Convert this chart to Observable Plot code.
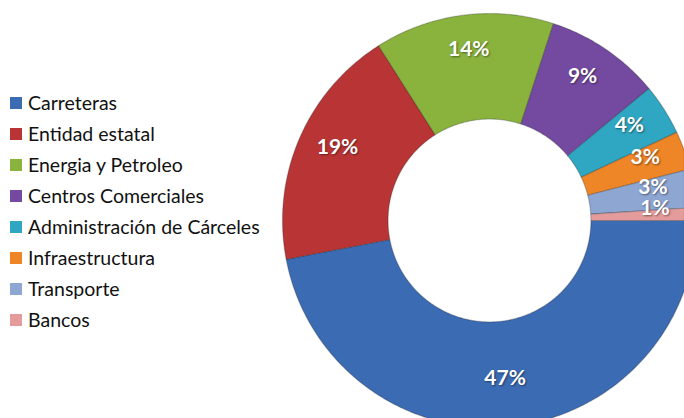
<!DOCTYPE html>
<html>
<head>
<meta charset="utf-8">
<script src="https://cdn.jsdelivr.net/npm/d3@7"></script>
<script src="https://cdn.jsdelivr.net/npm/@observablehq/plot@0.6"></script>
<style>
  html, body { margin: 0; padding: 0; background: #fff; }
  #wrap { position: relative; width: 684px; height: 418px; overflow: hidden; }
  #chart { position: absolute; left: 0; top: 0; }
  #legend { position: absolute; left: 10px; top: 87px; }
  #legend .lg-swatches { font-family: Lato, "Open Sans", sans-serif !important; font-size: 19.5px !important; color: #111 !important; margin: 0 !important; }
  #legend .lg-swatch { height: 31px; padding: 0 !important; margin: 0 !important; display: flex; align-items: center; }
  #legend .lg-swatch svg { margin-right: 6px !important; }
</style>
</head>
<body>
<div id="wrap">
  <div id="chart"></div>
  <div id="legend"></div>
</div>
<script>
const categories = ["Carreteras", "Entidad estatal", "Energia y Petroleo", "Centros Comerciales",
  "Administración de Cárceles", "Infraestructura", "Transporte", "Bancos"];
const values = [47, 19, 14, 9, 4, 3, 3, 1];
const colors = ["#3b6bb2", "#b93535", "#8ab33e", "#7449a0", "#2fa6c2", "#ee8527", "#8ea6d2", "#e39b9b"];
const labels = values.map(v => v + "%");

// geometry (unit ring, outer radius 1)
const innerR = 0.49, outerR = 1, labelR = 0.8;
const startAngle = Math.PI / 2; // first slice starts at 3 o'clock, clockwise
const total = d3.sum(values);
const pt = (r, a) => [r * Math.sin(a), -r * Math.cos(a)];

let acc = startAngle;
const slices = values.map((v, i) => {
  const a0 = acc, a1 = acc + (v / total) * 2 * Math.PI;
  acc = a1;
  const n = Math.max(4, Math.ceil((a1 - a0) / 0.01));
  const ring = [];
  for (let k = 0; k <= n; ++k) ring.push(pt(outerR, a0 + (a1 - a0) * k / n));
  for (let k = n; k >= 0; --k) ring.push(pt(innerR, a0 + (a1 - a0) * k / n));
  ring.push(ring[0]);
  const am = (a0 + a1) / 2;
  const [lx, ly] = pt(labelR, am);
  return {
    type: "Feature",
    properties: {category: categories[i], label: labels[i], color: colors[i], lx, ly},
    geometry: {type: "Polygon", coordinates: [ring]}
  };
});

// frame in ring units: centre sits at (489,220) of the 684x418 picture with outer radius 207
const R = 207;
const frame = {type: "Polygon", coordinates: [[
  [-489 / R, -220 / R], [(684 - 489) / R, -220 / R], [(684 - 489) / R, (418 - 220) / R],
  [-489 / R, (418 - 220) / R], [-489 / R, -220 / R]
]]};

const chart = Plot.plot({
  width: 684,
  height: 418,
  margin: 0,
  projection: {type: "identity", domain: frame},
  marks: [
    Plot.geo(slices, {
      fill: d => d.properties.color,
      stroke: "#1a1a1a",
      strokeOpacity: 0.25,
      strokeWidth: 1.2
    }),
    Plot.text(slices, {
      x: d => d.properties.lx,
      y: d => d.properties.ly,
      text: d => d.properties.label,
      dy: -7,
      fill: "white",
      fontSize: 21,
      fontWeight: "bold",
      fontFamily: "Lato, sans-serif"
    })
  ]
});
chart.querySelectorAll("text").forEach(t => t.style.textShadow = "1px 1px 2px rgba(0,0,0,0.45)");
document.getElementById("chart").appendChild(chart);

const legend = Plot.legend({
  color: {type: "ordinal", domain: categories, range: colors},
  legend: "swatches",
  columns: 1,
  swatchSize: 12,
  className: "lg"
});
document.getElementById("legend").appendChild(legend);
</script>
</body>
</html>
